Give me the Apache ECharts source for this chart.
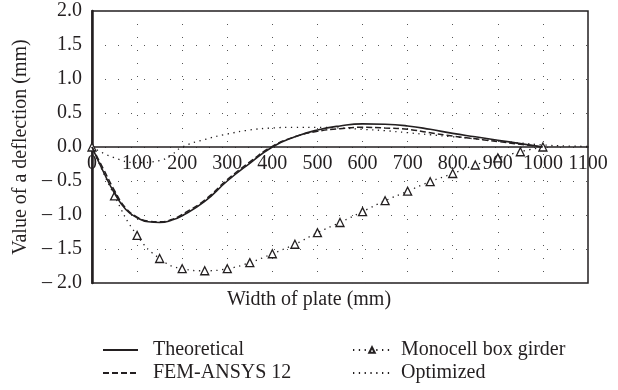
<!DOCTYPE html>
<html><head><meta charset="utf-8">
<script src="https://cdn.jsdelivr.net/npm/echarts@6/dist/echarts.min.js"></script>
<style>html,body{margin:0;padding:0;background:#fff}#c{width:618px;height:390px}</style>
</head><body><div id="c"></div>
<script>
const FONT = 'Liberation Serif';
const xTicks = [0,100,200,300,400,500,600,700,800,900,1000,1100];
const yTicks = [-2,-1.5,-1,-0.5,0,0.5,1,1.5,2];

const theoX = [0,25,50,75,100,125,150,175,200,250,300,350,400,450,500,550,600,650,700,750,800,850,900,950,1000];
const theoY = [0,-0.36,-0.68,-0.92,-1.04,-1.10,-1.11,-1.08,-1.01,-0.80,-0.50,-0.24,0,0.15,0.25,0.31,0.34,0.335,0.31,0.26,0.20,0.15,0.10,0.05,0];

const femX = [0,25,50,75,100,125,150,175,200,250,300,350,400,450,500,550,600,650,700,750,800,850,900,950,1000];
const femY = [0,-0.32,-0.64,-0.90,-1.03,-1.09,-1.10,-1.07,-0.99,-0.78,-0.48,-0.22,0.01,0.15,0.23,0.27,0.29,0.28,0.26,0.21,0.16,0.12,0.08,0.04,0];

const monoX = [0,50,100,150,200,250,300,350,400,450,500,550,600,650,700,750,800,850,900,950,1000];
const monoY = [0,-0.72,-1.30,-1.64,-1.79,-1.82,-1.79,-1.70,-1.57,-1.43,-1.26,-1.11,-0.95,-0.79,-0.65,-0.51,-0.39,-0.265,-0.16,-0.07,0];

const optX = [0,50,100,150,175,200,250,300,350,400,450,500,550,600,650,700,750,800,850,900,950,1000,1050,1100];
const optY = [0,-0.16,-0.23,-0.20,-0.12,0,0.11,0.19,0.25,0.28,0.29,0.29,0.28,0.26,0.24,0.21,0.18,0.15,0.12,0.09,0.06,0.03,0.015,0.01];

const names = ['Theoretical','FEM-ANSYS 12','Monocell box girder','Optimized'];
const zip = (a,b) => a.map((v,i)=>[v,b[i]]);

const chart = echarts.init(document.getElementById('c'), null, {renderer:'canvas'});
const txt = {fontFamily: FONT, fontSize: 20, color: '#231f20'};
function leg(item, left, top, w, h, pad) {
  return {data: [item], orient: 'horizontal', left: left, top: top, padding: 0, itemWidth: w, itemHeight: h,
    textStyle: Object.assign({padding: [0,0,0,pad]}, txt)};
}
chart.setOption({
  animation: false,
  textStyle: {fontFamily: FONT},
  grid: {left: 92, right: 30, top: 11, bottom: 107, show: true, borderColor: '#231f20', borderWidth: 1.5, backgroundColor: 'transparent'},
  xAxis: {
    type: 'value', min: xTicks[0], max: xTicks[xTicks.length-1], interval: 100,
    position: 'bottom', offset: -136,
    axisLine: {onZero: false, lineStyle: {color: '#231f20', width: 1.5}},
    axisTick: {show: false},
    axisLabel: Object.assign({margin: 7, formatter: v => String(v)}, txt),
    splitLine: {show: true, lineStyle: {color: '#555', width: 1, type: [1, 12]}}
  },
  yAxis: {
    type: 'value', min: yTicks[0], max: yTicks[yTicks.length-1], interval: 0.5,
    name: 'Value of a deflection (mm)', nameLocation: 'middle', nameGap: 57,
    nameTextStyle: txt,
    axisLine: {onZero: false, lineStyle: {color: '#231f20', width: 2.5}},
    axisTick: {show: false},
    axisLabel: Object.assign({margin: 10, formatter: v => v < 0 ? '\u2013 ' + Math.abs(v).toFixed(1) : v.toFixed(1)}, txt),
    splitLine: {show: true, lineStyle: {color: '#555', width: 1, type: [1, 12]}}
  },
  graphic: [{type: 'text', left: 'center', top: 290, style: {text: 'Width of plate (mm)', fill: '#231f20', font: '20px ' + FONT}}],
  legend: [
    leg({name: names[0], itemStyle: {opacity: 0}}, 102, 340, 35, 14, 10),
    leg({name: names[1], itemStyle: {opacity: 0}}, 102, 363, 35, 14, 10),
    leg({name: names[2]}, 352, 340, 38, 7, 5),
    leg({name: names[3], itemStyle: {opacity: 0}}, 352, 363, 38, 14, 5)
  ],
  series: [
    {name: names[3], type: 'line', data: zip(optX, optY), smooth: true, symbol: 'none', z: 2,
     lineStyle: {color: '#231f20', width: 1.3, type: [1.3, 4.5]}, itemStyle: {color: '#231f20'}},
    {name: names[2], type: 'line', data: zip(monoX, monoY), smooth: true, symbol: 'triangle', symbolSize: 8, z: 3,
     lineStyle: {color: '#231f20', width: 1.3, type: [1.3, 4.5]},
     itemStyle: {color: '#fff', borderColor: '#231f20', borderWidth: 1.3}},
    {name: names[1], type: 'line', data: zip(femX, femY), smooth: true, symbol: 'none', z: 4,
     lineStyle: {color: '#231f20', width: 1.5, type: [6, 3]}, itemStyle: {color: '#231f20'}},
    {name: names[0], type: 'line', data: zip(theoX, theoY), smooth: true, symbol: 'none', z: 5,
     lineStyle: {color: '#231f20', width: 1.6}, itemStyle: {color: '#231f20'}}
  ]
});
</script></body></html>
